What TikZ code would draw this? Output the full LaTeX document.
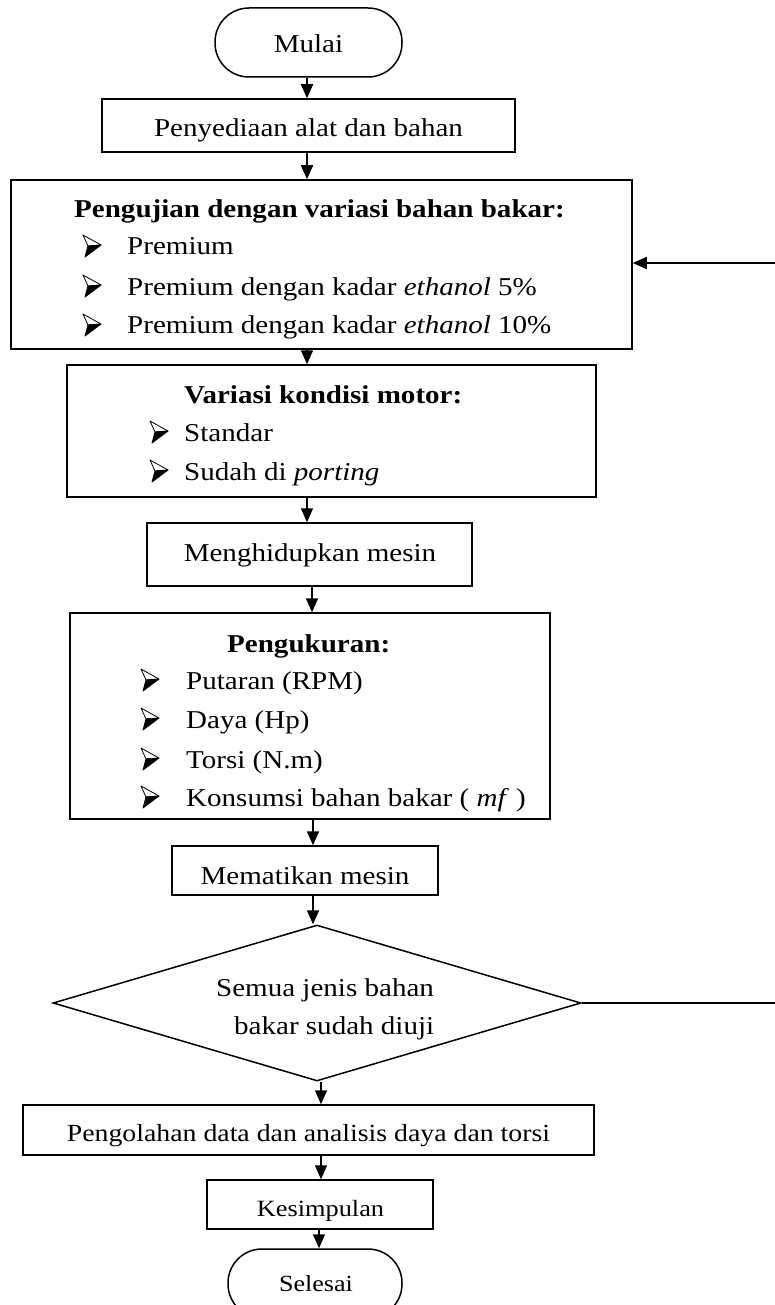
\documentclass[tikz,border=0pt]{standalone}
\usepackage{fontspec}
\setmainfont{Liberation Serif}[FakeStretch=1.13]
\usetikzlibrary{arrows.meta,shapes.geometric}
\newcommand\msz{\fontsize{25.7}{30}\selectfont}
\begin{document}
\begin{tikzpicture}[x=1pt,y=-1pt,
  box/.style={draw,line width=1.5pt,inner sep=0pt},
  term/.style={box,rounded corners=34pt},
  txt/.style={inner sep=0pt,anchor=base west,font=\msz},
  ctxt/.style={inner sep=0pt,anchor=base,font=\msz},
  arr/.style={line width=1.5pt,-{Triangle[width=12pt,length=14pt]}},
  bullet/.pic={
    \filldraw[fill=white,draw=black,line width=0.8pt,line join=round]
      (0,-20) -- (18,-10) -- (5,-9) -- cycle;
    \filldraw[fill=black,draw=black,line width=0.8pt,line join=round]
      (5,-9) -- (18,-10) -- (2,2) -- cycle;
  }]
\useasboundingbox (0,0) rectangle (774,1305);
% boxes
\node[term,minimum width=187pt,minimum height=69pt] (mulai) at (308.5,42.5) {};
\node[box,minimum width=413pt,minimum height=53pt] (peny) at (308.5,125.5) {};
\node[box,minimum width=621pt,minimum height=169pt] (uji) at (321.5,264.5) {};
\node[box,minimum width=529pt,minimum height=132pt] (motor) at (331.5,431) {};
\node[box,minimum width=325pt,minimum height=63pt] (hidup) at (309.5,554.5) {};
\node[box,minimum width=480pt,minimum height=206pt] (ukur) at (310,716) {};
\node[box,minimum width=266pt,minimum height=49pt] (mati) at (305,870.5) {};
\node[box,diamond,minimum width=528pt,minimum height=156pt] (dia) at (317,1003) {};
\node[box,minimum width=571pt,minimum height=50pt] (olah) at (308.5,1130) {};
\node[box,minimum width=226pt,minimum height=49pt] (kes) at (320,1204.5) {};
\node[term,minimum width=174pt,minimum height=69pt] (sel) at (315,1283.5) {};
% texts
\node[ctxt] (tmulai) at (308.5,53) {Mulai};
\node[ctxt] (tpeny) at (308.5,137) {Penyediaan alat dan bahan};
\node[txt] (tuji) at (74,218) {\bfseries Pengujian dengan variasi bahan bakar:};
\pic (b1) at (83,255) {bullet};
\node[txt] (u1) at (127,255) {Premium};
\pic (b2) at (83,295) {bullet};
\node[txt] (u2) at (127,295) {Premium dengan kadar \textit{ethanol} 5\%};
\pic (b3) at (83,334) {bullet};
\node[txt] (u3) at (127,334) {Premium dengan kadar \textit{ethanol} 10\%};
\node[txt] (tmotor) at (184,403) {\bfseries Variasi kondisi motor:};
\pic (b4) at (150,441) {bullet};
\node[txt] (m1) at (184,441) {Standar};
\pic (b5) at (150,480) {bullet};
\node[txt] (m2) at (184,480) {Sudah di \textit{porting}};
\node[ctxt] (thidup) at (310,561) {Menghidupkan mesin};
\node[txt] (tukur) at (227,652) {\bfseries Pengukuran:};
\pic (b6) at (141,689) {bullet};
\node[txt] (k1) at (186,689) {Putaran (RPM)};
\pic (b7) at (141,728) {bullet};
\node[txt] (k2) at (186,728) {Daya (Hp)};
\pic (b8) at (141,768) {bullet};
\node[txt] (k3) at (186,768) {Torsi (N.m)};
\pic (b9) at (141,806) {bullet};
\node[txt] (k4) at (186,806) {Konsumsi bahan bakar ( \textit{mf} )};
\node[ctxt] (tmati) at (305,884) {Mematikan mesin};
\node[txt] (d1) at (216,996) {Semua jenis bahan};
\node[txt] (d2) at (234,1034) {bakar sudah diuji};
\node[ctxt,font=\fontsize{24.6}{28}\selectfont] (tolah) at (308.5,1141) {Pengolahan data dan analisis daya dan torsi};
\node[ctxt,font=\fontsize{23.3}{27}\selectfont] (tkes) at (320.5,1216) {Kesimpulan};
\node[ctxt,font=\fontsize{23.1}{27}\selectfont] (tsel) at (316,1291) {Selesai};
% arrow columns
\coordinate (xa) at (307,0);
\coordinate (xb) at (312,0);
\coordinate (xc) at (313,0);
\coordinate (xd) at (321,0);
\coordinate (xe) at (319,0);
\draw[arr] (mulai.south -| xa) -- (peny.north -| xa);
\draw[arr] (peny.south -| xa) -- (uji.north -| xa);
\draw[arr] (uji.south -| xa) -- (motor.north -| xa);
\draw[arr] (motor.south -| xa) -- (hidup.north -| xa);
\draw[arr] (hidup.south -| xb) -- (ukur.north -| xb);
\draw[arr] (ukur.south -| xc) -- (mati.north -| xc);
\draw[arr] (mati.south -| xc) -- (dia.north -| xc);
\draw[arr] (dia.south -| xd) -- (olah.north -| xd);
\draw[arr] (olah.south -| xd) -- (kes.north -| xd);
\draw[arr] (kes.south -| xe) -- (sel.north -| xe);
% feedback loop
\coordinate (fb1) at (782,1003);
\coordinate (fb2) at (782,263);
\draw[arr] (dia.east) -- (fb1) -- (fb2) -- (uji.east |- fb2);
\end{tikzpicture}
\end{document}
